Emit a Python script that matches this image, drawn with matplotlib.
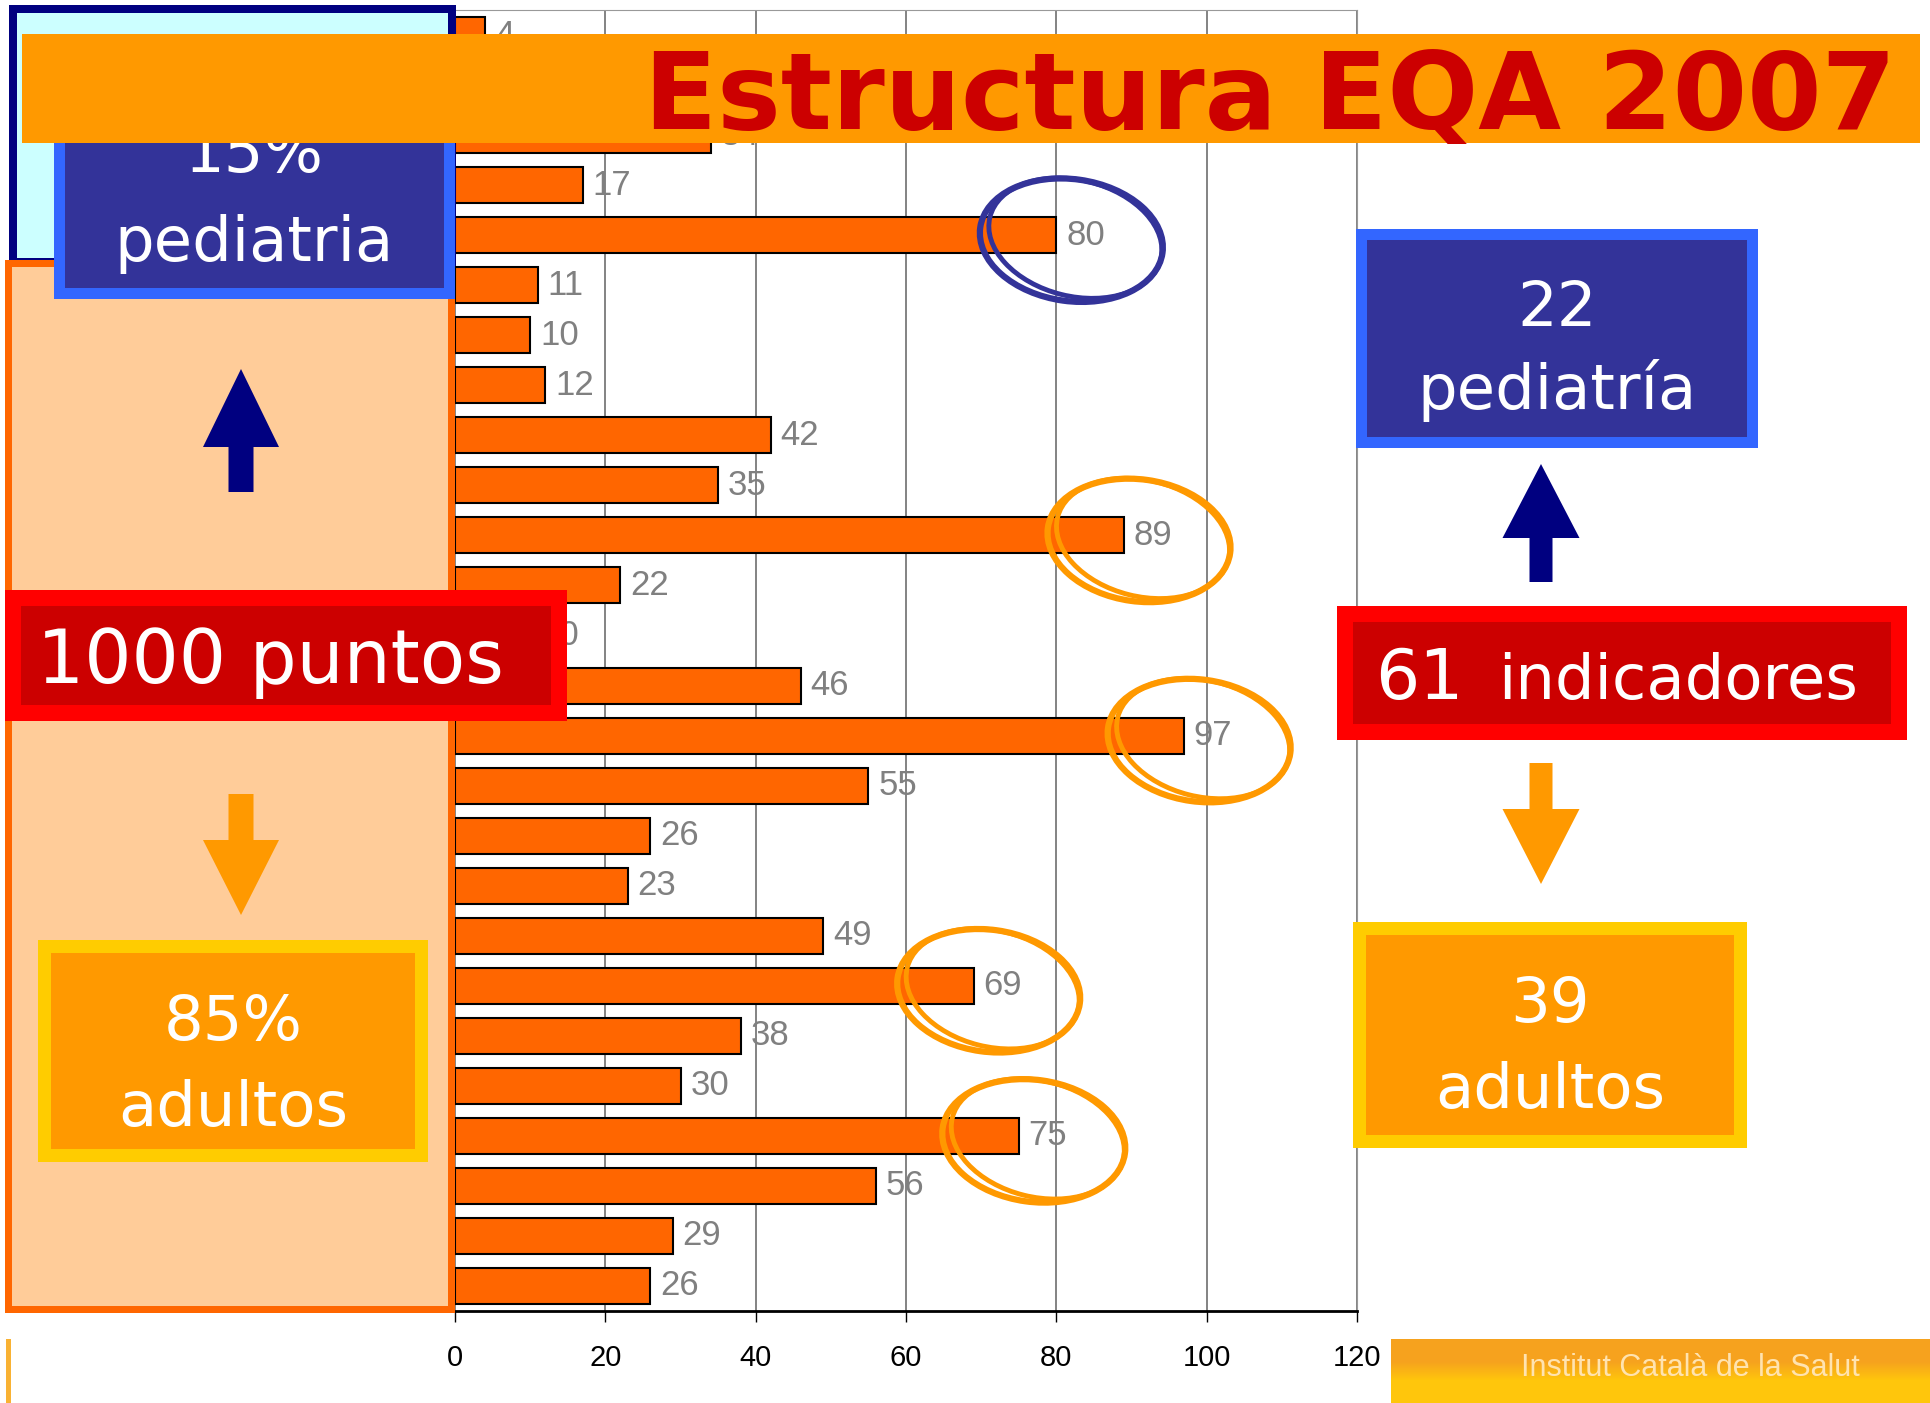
import numpy as np
import matplotlib.pyplot as plt
from matplotlib.patches import Rectangle, Ellipse, FancyArrow

# bar values, top to bottom (row 1 is hidden under the title band)
values = [4, 30, 34, 17, 80, 11, 10, 12, 42, 35, 89, 22, 10, 46, 97,
          55, 26, 23, 49, 69, 38, 30, 75, 56, 29, 26]
xticks = [0, 20, 40, 60, 80, 100, 120]

# hand-drawn circles around some bars
circled = [4, 10, 14, 19, 22]
circle_colors = ['#333399', '#FF9900', '#FF9900', '#FF9900', '#FF9900']

title = 'Estructura EQA 2007'
left_top = ('15%', 'pediatria')
left_bottom = ('85%', 'adultos')
right_top = ('22', 'pediatría')
right_bottom = ('39', 'adultos')
total_points = '1000 puntos'
n_indic, indic_word = '61', 'indicadores'
logo_text = 'Institut Català de la Salut'

plt.rcParams['font.family'] = ['DejaVu Sans']

W, H = 1930, 1403
fig = plt.figure(figsize=(W / 100, H / 100), dpi=100)
fig.patch.set_facecolor('white')

# ---- bar chart ----
ax = fig.add_axes([455 / W, 1 - 1311 / H, (1357 - 455) / W, (1311 - 10) / H])
rows = np.arange(len(values))
ax.barh(rows, values, height=0.72, color='#FF6600', edgecolor='black',
        linewidth=1.5, zorder=2)
ax.set_ylim(len(values) - 0.5, -0.5)
ax.set_xlim(0, 120)
ax.set_xticks(xticks)
ax.set_yticks([])
ax.xaxis.grid(True, color='#6E6E6E', linewidth=1.2)
ax.set_axisbelow(True)
ax.spines['left'].set_visible(False)
ax.spines['top'].set_color('#999999')
ax.spines['right'].set_color('#999999')
ax.spines['bottom'].set_linewidth(2)
ax.tick_params(axis='x', length=8, width=1, pad=16, labelsize=21)
for lbl in ax.get_xticklabels():
    lbl.set_family('Liberation Sans')

for r, v in zip(rows, values):
    ax.annotate(str(v), (v, r), xytext=(7, 0), textcoords='offset points',
                va='center', ha='left', fontsize=25, color='#808080',
                family='Liberation Sans', zorder=3)

# ---- overlay in pixel coordinates ----
ov = fig.add_axes([0, 0, 1, 1], zorder=10)
ov.patch.set_alpha(0)
ov.axis('off')


def box(x0, y0, x1, y1, fill, edge=None, bw=0, z=1):
    if edge:
        ov.add_patch(Rectangle((x0, y0), x1 - x0, y1 - y0,
                               facecolor=edge, edgecolor='none', zorder=z))
    ov.add_patch(Rectangle((x0 + bw, y0 + bw), x1 - x0 - 2 * bw,
                           y1 - y0 - 2 * bw, facecolor=fill,
                           edgecolor='none', zorder=z))


box(9, 5, 456, 266, '#CCFFFF', '#000080', 8)
box(5, 260, 455, 1313, '#FFCC99', '#FF6600', 7)
box(54, 115, 455, 299, '#333399', '#3366FF', 11)
box(5, 590, 567, 721, '#CC0000', '#FF0000', 16)
box(38, 940, 428, 1162, '#FF9900', '#FFCC00', 13)
box(1356, 229, 1758, 448, '#333399', '#3366FF', 11)
box(1337, 606, 1907, 740, '#CC0000', '#FF0000', 16)
box(1353, 922, 1747, 1148, '#FF9900', '#FFCC00', 13)
# title band sits above the "15%" text
box(22, 34, 1920, 143, '#FF9900', z=6)

ov.text(1896, 129, title, ha='right', va='baseline', fontsize=77,
        fontweight='bold', color='#CC0000', zorder=7)

tk = dict(ha='center', va='baseline', fontsize=45, color='white', zorder=3)
ov.text(254, 172, left_top[0], **tk)
ov.text(254, 261, left_top[1], **tk)
ov.text(233, 1040, left_bottom[0], **tk)
ov.text(233, 1126, left_bottom[1], **tk)
ov.text(1557, 326, right_top[0], **tk)
ov.text(1557, 409, right_top[1], **tk)
ov.text(1550, 1022, right_bottom[0], **tk)
ov.text(1550, 1108, right_bottom[1], **tk)

ov.text(37, 683, total_points, ha='left', va='baseline', fontsize=53.5,
        color='white')
ov.text(1375, 699, n_indic, ha='left', va='baseline', fontsize=50,
        color='white')
ov.text(1498, 699, indic_word, ha='left', va='baseline', fontsize=45,
        color='white')

# block arrows
ov.add_patch(FancyArrow(241, 492, 0, -123, width=25, head_width=76,
                        head_length=78, length_includes_head=True,
                        color='#000080', lw=0))
ov.add_patch(FancyArrow(241, 794, 0, 121, width=25, head_width=76,
                        head_length=75, length_includes_head=True,
                        color='#FF9900', lw=0))
ov.add_patch(FancyArrow(1541, 582, 0, -118, width=23, head_width=77,
                        head_length=74, length_includes_head=True,
                        color='#000080', lw=0))
ov.add_patch(FancyArrow(1541, 763, 0, 121, width=23, head_width=77,
                        head_length=75, length_includes_head=True,
                        color='#FF9900', lw=0))

# circles placed from the bar data
fig.canvas.draw()
for i, c in zip(circled, circle_colors):
    px, py = ax.transData.transform((values[i] + 2, i + 0.1))
    cy = H - py
    ov.add_patch(Ellipse((px, cy), 184, 122, angle=8, fill=False,
                         edgecolor=c, linewidth=4.5, zorder=5))
    ov.add_patch(Ellipse((px + 4, cy - 2), 176, 116, angle=14, fill=False,
                         edgecolor=c, linewidth=3.5, zorder=5))

# logo strip bottom right
top = np.array([0xF6, 0xA2, 0x1E]) / 255
bot = np.array([0xFF, 0xC6, 0x0C]) / 255
t = np.clip((np.linspace(0, 1, 64) - 0.35) / 0.3, 0, 1)[:, None]
grad = (top[None, :] * (1 - t) + bot[None, :] * t)[:, None, :]
ov.imshow(grad, extent=(1391, 1930, 1403, 1339), aspect='auto', zorder=1)
ov.text(1690, 1368, logo_text, ha='center', va='center', fontsize=22,
        color='#FFE3B0', family='Liberation Sans', zorder=2)
ov.add_patch(Rectangle((6, 1339), 5, 64, facecolor='#F9B233',
                       edgecolor='none'))

ov.set_xlim(0, W)
ov.set_ylim(H, 0)

fig.savefig('out.png', dpi=100)
